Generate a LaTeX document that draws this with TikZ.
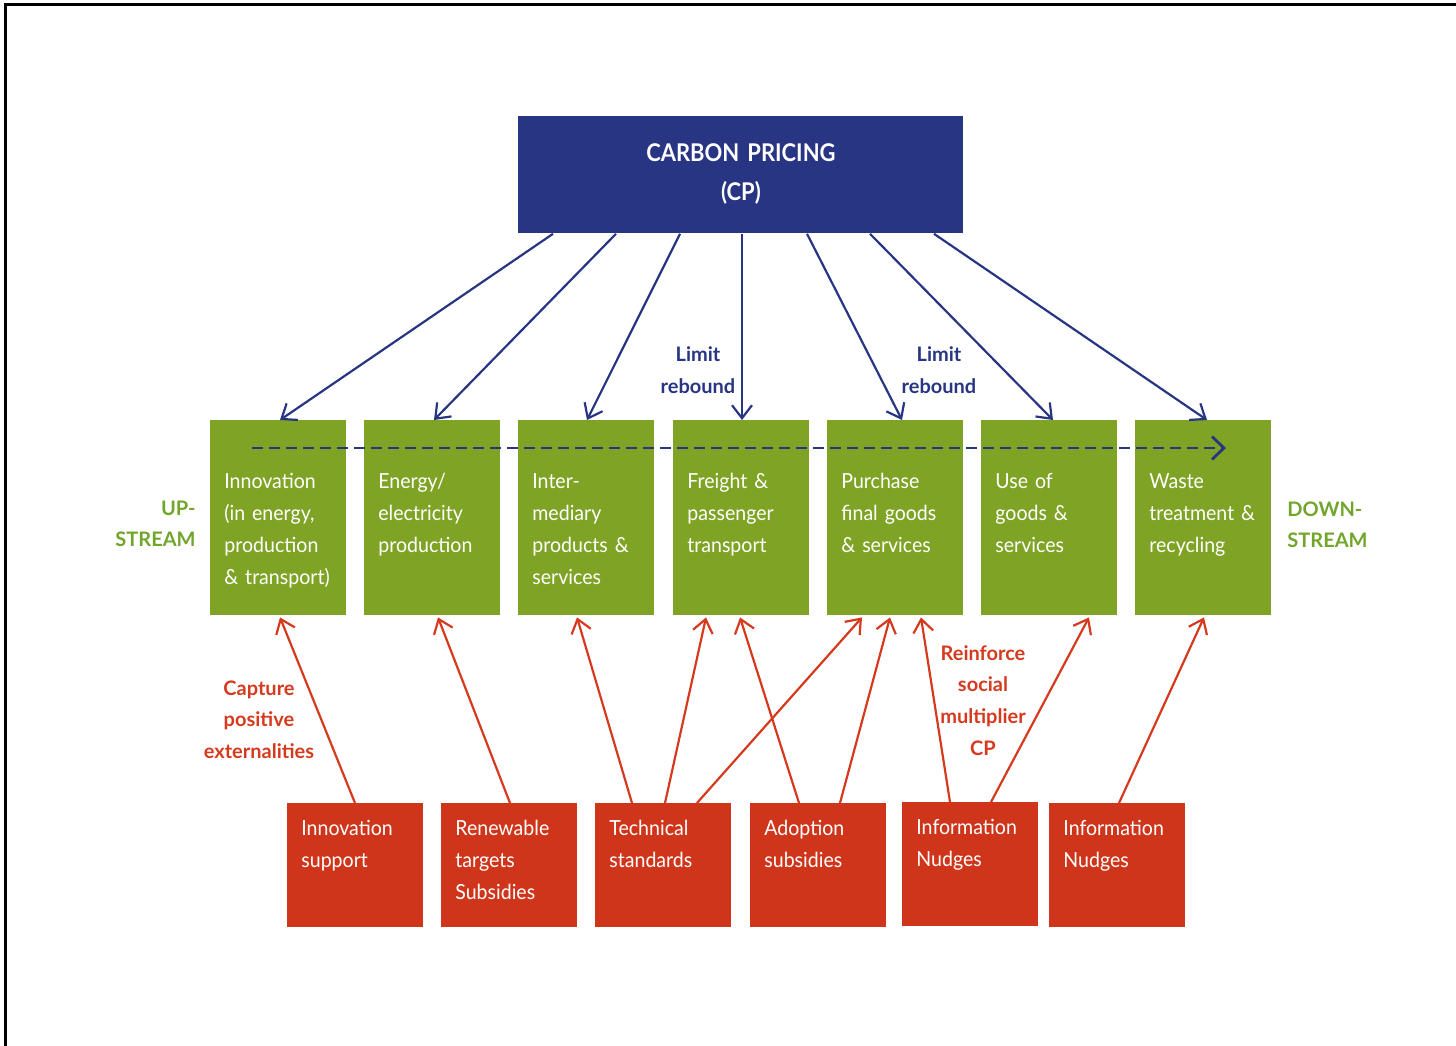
\documentclass[tikz,border=0pt]{standalone}
\usepackage{fontspec}
\setmainfont{Lato}
\newfontfamily\boxfont{Lato}[FakeStretch=0.94]
\newfontfamily\cpfont{Lato}[FakeStretch=0.9]
\usetikzlibrary{arrows.meta}
\definecolor{cpblue}{HTML}{283583}
\definecolor{boxgreen}{HTML}{7FA325}
\definecolor{txtgreen}{HTML}{72A52C}
\definecolor{boxred}{HTML}{CF351A}
\definecolor{txtred}{HTML}{D63A1E}
\tikzset{
  cpbox/.style={fill=cpblue, draw=none, minimum width=222.5pt, minimum height=58.5pt, inner sep=0, anchor=north west},
  gbox/.style={fill=boxgreen, draw=none, minimum width=68pt, minimum height=97.5pt, inner sep=0, anchor=north west},
  rbox/.style={fill=boxred, draw=none, minimum width=68pt, minimum height=62pt, inner sep=0, anchor=north west},
  btext/.style={text=white, font=\boxfont\fontsize{10.4pt}{16pt}\selectfont, align=left, text width=62pt, inner sep=0, anchor=base west},
  cptext/.style={text=white, font=\cpfont\bfseries\fontsize{12.2pt}{19.5pt}\selectfont, align=center, text width=200pt, inner sep=0, anchor=base},
  bluelabel/.style={text=cpblue, font=\bfseries\fontsize{10pt}{16pt}\selectfont, align=center, text width=70pt, inner sep=0, anchor=base},
  redlabel/.style={text=txtred, font=\bfseries\fontsize{10pt}{15.9pt}\selectfont, align=center, text width=70pt, inner sep=0, anchor=base},
  streamlabel/.style={text=txtgreen, font=\bfseries\fontsize{10pt}{15.8pt}\selectfont, text width=50pt, inner sep=0},
  barrow/.style={draw=cpblue, line width=1.1pt, -{Straight Barb[length=6.5pt,width=10pt]}},
  rarrow/.style={draw=txtred, line width=1.1pt, -{Straight Barb[length=6.5pt,width=10pt]}},
  darrow/.style={draw=cpblue, line width=1.4pt, dash pattern=on 5.5pt off 3pt, -{Straight Barb[length=6pt,width=11.5pt]}}
}
\begin{document}
\begin{tikzpicture}[x=0.5pt,y=-0.5pt]
\path[use as bounding box] (0,0) rectangle (1456,1045);
\clip (0,0) rectangle (1456,1045);
\draw[line width=1.25pt] (1470,4.5) -- (5.5,4.5) -- (5.5,1060);

% carbon pricing
\node[cpbox] (cp) at (518,116) {};
\node[cptext] (cpt) at ([yshift=-22.5pt]cp.north) {CARBON PRICING\\(CP)};

% green boxes
\node[gbox] (g1) at (210,420) {};
\node[gbox] (g2) at (364,420) {};
\node[gbox] (g3) at (518,420) {};
\node[gbox] (g4) at (673,420) {};
\node[gbox] (g5) at (827,420) {};
\node[gbox] (g6) at (981,420) {};
\node[gbox] (g7) at (1135,420) {};
\node[btext] (t1) at ([xshift=7pt,yshift=-34pt]g1.north west) {Innovation\\(in energy,\\production\\\& transport)};
\node[btext] (t2) at ([xshift=7pt,yshift=-34pt]g2.north west) {Energy/\\electricity\\production};
\node[btext] (t3) at ([xshift=7pt,yshift=-34pt]g3.north west) {Inter-\\mediary\\products \&\\services};
\node[btext] (t4) at ([xshift=7pt,yshift=-34pt]g4.north west) {Freight \&\\passenger\\transport};
\node[btext] (t5) at ([xshift=7pt,yshift=-34pt]g5.north west) {Purchase\\final goods\\\& services};
\node[btext] (t6) at ([xshift=7pt,yshift=-34pt]g6.north west) {Use of\\goods \&\\services};
\node[btext] (t7) at ([xshift=7pt,yshift=-34pt]g7.north west) {Waste\\treatment \&\\recycling};

% red boxes
\node[rbox] (r1) at (287,803) {};
\node[rbox] (r2) at (441,803) {};
\node[rbox] (r3) at (595,803) {};
\node[rbox] (r4) at (750,803) {};
\node[rbox] (r5) at (902,802) {};
\node[rbox] (r6) at (1049,803) {};
\node[btext] (s1) at ([xshift=7pt,yshift=-16pt]r1.north west) {Innovation\\support};
\node[btext] (s2) at ([xshift=7pt,yshift=-16pt]r2.north west) {Renewable\\targets\\Subsidies};
\node[btext] (s3) at ([xshift=7pt,yshift=-16pt]r3.north west) {Technical\\standards};
\node[btext] (s4) at ([xshift=7pt,yshift=-16pt]r4.north west) {Adoption\\subsidies};
\node[btext] (s5) at ([xshift=7pt,yshift=-16pt]r5.north west) {Information\\Nudges};
\node[btext] (s6) at ([xshift=7pt,yshift=-16pt]r6.north west) {Information\\Nudges};

% labels
\node[bluelabel] (lr1) at (698,361) {Limit\\rebound};
\node[bluelabel] (lr2) at (939,361) {Limit\\rebound};
\node[redlabel] (cap) at (259,695) {Capture\\positive\\externalities};
\node[redlabel] (rei) at (983,660) {Reinforce\\social\\multiplier\\CP};
\node[streamlabel, align=right, anchor=base east] (up) at (196,515) {UP-\\STREAM};
\node[streamlabel, align=left, anchor=base west] (down) at (1287,516) {DOWN-\\STREAM};

% blue arrows
\draw[barrow] ([xshift=17.5pt]cp.south west) -- ([xshift=35pt]g1.north west);
\draw[barrow] ([xshift=49pt]cp.south west) -- ([xshift=35pt]g2.north west);
\draw[barrow] ([xshift=81pt]cp.south west) -- ([xshift=34.5pt]g3.north west);
\draw[barrow] ([xshift=112pt]cp.south west) -- ([xshift=34.5pt]g4.north west);
\draw[barrow] ([xshift=144.5pt]cp.south west) -- ([xshift=37.5pt]g5.north west);
\draw[barrow] ([xshift=176pt]cp.south west) -- ([xshift=36pt]g6.north west);
\draw[barrow] ([xshift=208pt]cp.south west) -- ([xshift=36pt]g7.north west);

% dashed arrow
\draw[darrow] ([xshift=21pt,yshift=-14pt]g1.north west) -- ([xshift=45.5pt,yshift=-14pt]g7.north west);

% red arrows
\draw[rarrow] ([xshift=34pt]r1.north west) -- ([xshift=35pt,yshift=-0.8pt]g1.south west);
\draw[rarrow] ([xshift=34.5pt]r2.north west) -- ([xshift=37pt,yshift=-0.8pt]g2.south west);
\draw[rarrow] ([xshift=18.5pt]r3.north west) -- ([xshift=29.5pt,yshift=-0.8pt]g3.south west);
\draw[rarrow] ([xshift=35pt]r3.north west) -- ([xshift=16.5pt,yshift=-0.8pt]g4.south west);
\draw[rarrow] ([xshift=51pt]r3.north west) -- ([xshift=17.5pt,yshift=-0.8pt]g5.south west);
\draw[rarrow] ([xshift=24.5pt]r4.north west) -- ([xshift=33.5pt,yshift=-0.8pt]g4.south west);
\draw[rarrow] ([xshift=45pt]r4.north west) -- ([xshift=31.5pt,yshift=-0.8pt]g5.south west);
\draw[rarrow] ([xshift=24pt]r5.north west) -- ([xshift=47pt,yshift=-0.8pt]g5.south west);
\draw[rarrow] ([xshift=44.5pt]r5.north west) -- ([xshift=54pt,yshift=-0.8pt]g6.south west);
\draw[rarrow] ([xshift=35pt]r6.north west) -- ([xshift=34.5pt,yshift=-0.8pt]g7.south west);
\end{tikzpicture}
\end{document}
